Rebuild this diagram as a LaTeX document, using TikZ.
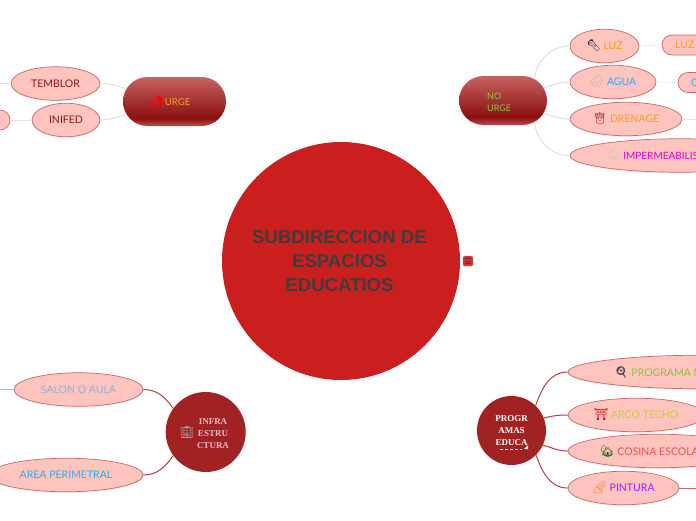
\documentclass[tikz,border=0pt]{standalone}
\usepackage{fontspec}
\setmainfont{Lato}
\newfontfamily\titlefont{Liberation Sans}
\newfontfamily\letterfont{Liberation Serif}
\newfontfamily\emojifont{Noto Emoji}
\usepackage{xcolor}
\usetikzlibrary{shapes.geometric,shapes.misc,shadows}
\definecolor{coreRed}{HTML}{CB1E1E}
\definecolor{hubRed}{HTML}{A02222}
\definecolor{ovalPink}{HTML}{FFC4BE}
\definecolor{ovalEdge}{HTML}{C46A6A}
\definecolor{softGray}{HTML}{E2E2E2}
\definecolor{linkRed}{HTML}{B04040}
\definecolor{titleGray}{HTML}{3D3D3D}
\definecolor{pillTop}{HTML}{C86262}
\definecolor{pillDark}{HTML}{8B0F0F}
\definecolor{pillEdge}{HTML}{BC4C4C}
\definecolor{textOrange}{HTML}{F5A023}
\definecolor{textSky}{HTML}{35A8F0}
\definecolor{textMist}{HTML}{8FB3D9}
\definecolor{textMagenta}{HTML}{E000C8}
\definecolor{textLeaf}{HTML}{8CC63F}
\definecolor{textLime}{HTML}{C0D030}
\definecolor{textCoral}{HTML}{F05050}
\definecolor{textViolet}{HTML}{9B1FFF}
\definecolor{textWine}{HTML}{8B1A1A}
\definecolor{textRose}{HTML}{E6BBD0}
\pgfdeclareverticalshading{pillFade}{100bp}{color(0bp)=(pillEdge); color(25bp)=(pillEdge); color(33bp)=(pillDark); color(75bp)=(pillTop); color(100bp)=(pillTop)}
\newcommand{\mapicon}[2]{{\fontsize{11.5}{12}\selectfont\emojifont\color{#1}#2}}
\tikzset{
  ovalItem/.style={ellipse, draw=ovalEdge, line width=0.7pt, fill=ovalPink, inner sep=0pt, minimum height=33.5pt, font=\fontsize{10.5}{12}\selectfont, drop shadow={opacity=0.12, shadow xshift=0pt, shadow yshift=-1.5pt}},
  subPill/.style={rounded rectangle, draw=ovalEdge, line width=0.7pt, fill=ovalPink, inner sep=0pt, minimum height=20pt, font=\fontsize{10.5}{12}\selectfont},
  branchPill/.style={rounded rectangle, shading=pillFade, inner sep=0pt, minimum width=103pt, minimum height=49pt, font=\fontsize{9.5}{12}\selectfont},
  hubCircle/.style={circle, fill=hubRed, inner sep=0pt, font=\fontsize{9}{11.7}\selectfont\letterfont\bfseries},
  softLink/.style={softGray, line width=1.1pt},
  redLink/.style={linkRed, line width=1pt},
  cutLabel/.style={anchor=west, inner sep=0pt, font=\fontsize{10.5}{12}\selectfont}
}
\begin{document}
\begin{tikzpicture}[x=1pt, y=-1pt]
  \useasboundingbox (0,0) rectangle (696,520);
  \clip (0,0) rectangle (696,520);
  % centre
  \node[circle, fill=coreRed, minimum size=238pt, inner sep=0pt] (coreCircle) at (341,261) {};
  \node[inner sep=0pt, align=center, text=titleGray, font=\fontsize{18.6}{24}\selectfont\titlefont\bfseries] (coreText) at (339.5,261) {SUBDIRECCION DE\\ESPACIOS\\ EDUCATIOS};
  \node[rectangle, rounded corners=1.5pt, fill=coreRed!90!white, draw=coreRed!70!white, minimum size=10pt, inner sep=0pt] (collapseMark) at (468,261) {};
  \foreach \yy in {258.5,261,263.5}
    \draw[titleGray!85!coreRed, line width=0.5pt] (465,\yy) -- (471,\yy);
  % urge
  \node[branchPill, text=textOrange] (urgeBox) at (174.5,101.5) {\mapicon{red}{📣}\,URGE\hspace{10pt}\mbox{}};
  \node[ovalItem, minimum width=89pt, text=textWine] (temblorOval) at (55.5,83.5) {TEMBLOR};
  \node[ovalItem, minimum width=68pt, text=textWine] (inifedOval) at (66,120) {INIFED};
  \node[subPill, minimum width=40pt] (inifedChild) at (-10,120) {};
  \coordinate (temblorEnd) at (0,83.5);
  \draw[softLink] (temblorOval.east) to[out=0, in=165] (urgeBox.165);
  \draw[softLink] (inifedOval.east) to[out=0, in=195] (urgeBox.195);
  \draw[softGray] (inifedChild.east) -- (inifedOval.west);
  \draw[softGray] (temblorEnd) -- (temblorOval.west);
  % no urge
  \node[branchPill, minimum width=88pt] (noUrgeBox) at (503,100.5) {};
  \node[anchor=west, inner sep=0pt, align=left, text=textLeaf, font=\fontsize{9}{12}\selectfont] (noUrgeText) at (487,102) {NO\\URGE};
  \node[ovalItem, minimum width=69pt, text=textOrange] (luzOval) at (604.5,46) {\mapicon{black!80}{🔦} LUZ};
  \node[ovalItem, minimum width=86pt, text=textSky] (aguaOval) at (613,82) {\mapicon{gray!60}{🌧} AGUA};
  \node[ovalItem, minimum width=112pt, text=textOrange] (drenageOval) at (626,119) {\mapicon{red!70!black}{👸} DRENAGE};
  \node[ovalItem, minimum width=220pt] (imperOval) at (680,155.5) {};
  \node[cutLabel, text=textMagenta, font=\fontsize{10}{12}\selectfont] (imperText) at (606,155.5) {\mapicon{gray!50}{⛈} IMPERMEABILIS};
  \node[subPill, minimum width=60pt] (luzChild) at (692,45) {};
  \node[cutLabel, text=textOrange] (luzText) at (675,45) {LUZ};
  \node[subPill, minimum width=60pt] (aguaChild) at (708,82.5) {};
  \node[cutLabel, text=textSky] (aguaText) at (691,82.5) {C};
  \coordinate (drenageEnd) at (696,119);
  \draw[softLink] (noUrgeBox.35) to[out=80, in=180] (luzOval.west);
  \draw[softLink] (noUrgeBox.17) to[out=20, in=180] (aguaOval.west);
  \draw[softLink] (noUrgeBox.-17) to[out=-20, in=180] (drenageOval.west);
  \draw[softLink] (noUrgeBox.-35) to[out=-80, in=180] (imperOval.west);
  \draw[softGray] (luzOval.east) -- (luzChild.west);
  \draw[softGray] (aguaOval.east) -- (aguaChild.west);
  \draw[softGray] (drenageOval.east) -- (drenageEnd);
  % infraestructura
  \node[hubCircle, minimum size=80pt] (infraCircle) at (205.7,432) {};
  \node[inner sep=0pt, align=center, text=textRose, font=\fontsize{9}{11.7}\selectfont\letterfont\bfseries] (infraText) at (213,433.5) {INFRA\\ESTRU\\CTURA};
  \node[inner sep=0pt, font=\fontsize{12}{12}\selectfont] (infraIcon) at (187,433) {\mapicon{gray!70!white}{🏢}};
  \node[ovalItem, minimum width=129pt, text=textMist] (salonOval) at (78.5,389.5) {SALON O AULA};
  \node[ovalItem, minimum width=154pt, text=textSky] (areaOval) at (66,475) {AREA PERIMETRAL};
  \coordinate (salonEnd) at (0,389.5);
  \draw[redLink] (salonOval.east) to[out=0, in=125] (infraCircle.144);
  \draw[redLink] (areaOval.east) to[out=0, in=235] (infraCircle.216);
  \draw[ovalPink!70!ovalEdge] (salonEnd) -- (salonOval.west);
  % programas
  \node[hubCircle, minimum size=69pt, align=center, text=white] (progCircle) at (511.5,430.5) {PROGR\\AMAS\\EDUCA};
  \draw[white, densely dashed, line width=0.5pt] (500,449.5) -- (522,449.5);
  \fill[white] (528,445) -- (528,449) -- (524,449) -- cycle;
  \node[ovalItem, minimum width=264pt] (programaOval) at (700,372) {};
  \node[cutLabel, text=textLeaf] (programaText) at (614,372.5) {\mapicon{black!70}{🍳} PROGRAMA M};
  \node[ovalItem, minimum width=136pt, text=textLime] (arcoOval) at (636,415) {\mapicon{red!80!black}{⛩} ARCO TECHO};
  \node[ovalItem, minimum width=180pt] (cosinaOval) at (658,451) {};
  \node[cutLabel, text=textCoral] (cosinaText) at (600,451.5) {\mapicon{green!40!black}{🏡} COSINA ESCOLA};
  \node[ovalItem, minimum width=111pt, text=textViolet] (pinturaOval) at (623.5,488) {\mapicon{orange}{🌈} PINTURA};
  \coordinate (pinturaEnd) at (696,488);
  \draw[redLink] (progCircle.46) to[out=70, in=180] (programaOval.west);
  \draw[redLink] (progCircle.21) to[out=15, in=180] (arcoOval.west);
  \draw[redLink] (progCircle.-25) to[out=-15, in=180] (cosinaOval.west);
  \draw[redLink] (progCircle.-45) to[out=-70, in=180] (pinturaOval.west);
  \draw[ovalEdge] (pinturaOval.east) -- (pinturaEnd);
\end{tikzpicture}
\end{document}
